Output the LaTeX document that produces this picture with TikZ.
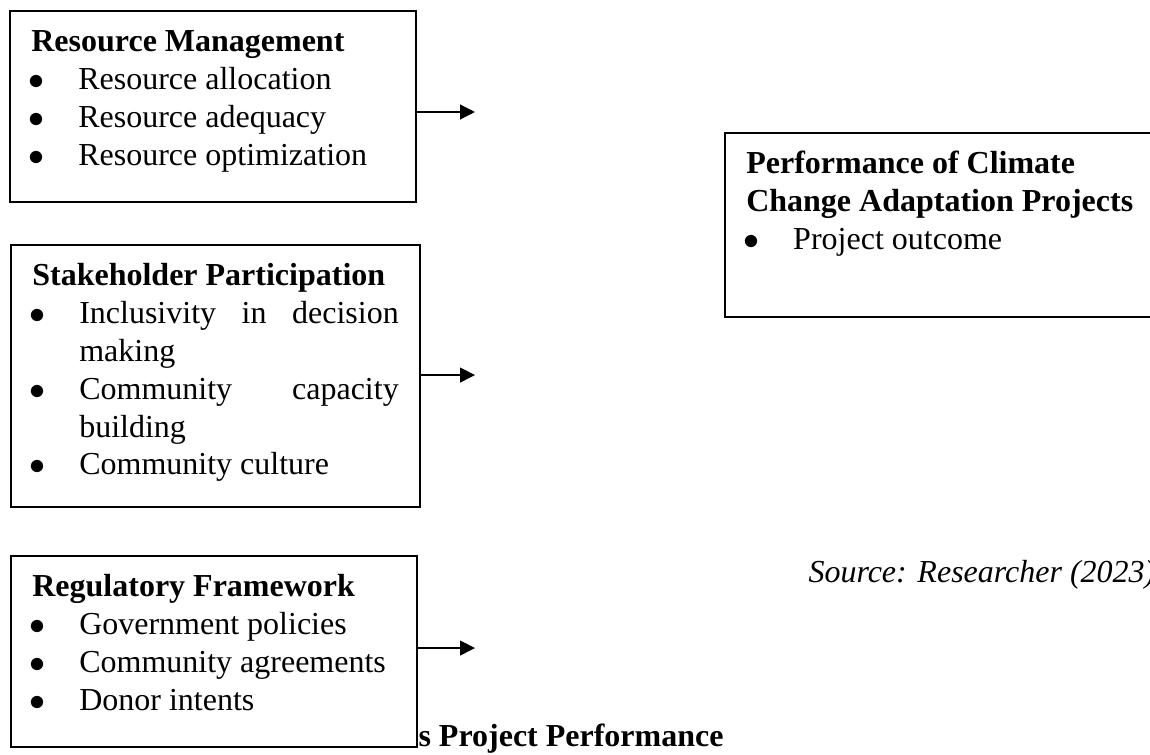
\documentclass[tikz,border=0pt]{standalone}
\usepackage{fontspec}
\setmainfont{Liberation Serif}
\usetikzlibrary{arrows.meta}

% bullet line with hanging indent
\newcommand{\bitem}[1]{\par\hangindent=17.6pt\hangafter=1\noindent\makebox[17.6pt][l]{\hspace{-1pt}{\large$\bullet$}}#1}
\tolerance=10000
\hyphenpenalty=10000

\begin{document}
\begin{tikzpicture}[
    font=\fontsize{12}{14.2}\selectfont,
    varbox/.style={
        rectangle,
        draw=black,
        line width=0.75pt,
        anchor=north west,
        align=justify,
        inner xsep=8pt,
        inner ysep=0pt,
        text height=15.2pt
    },
    arrow/.style={-{Triangle[length=5.6pt,width=5.6pt]}, line width=0.5pt},
]

\useasboundingbox (0,0) rectangle (15.157,-9.938);
\clip (0,0) rectangle (15.157,-9.938);

% Independent variables
\node[varbox, text width=136.25pt, text depth=56.4pt] (res) at (0.119,-0.132) {%
    \textbf{Resource Management}
    \bitem{Resource allocation}
    \bitem{Resource adequacy}
    \bitem{Resource optimization}};

\node[varbox, text width=137.4pt, text depth=83pt] (stake) at (0.132,-3.216) {%
    \textbf{Stakeholder Participation}
    \bitem{Inclusivity in decision making}
    \bitem{Community capacity building}
    \bitem{Community culture}};

\node[varbox, text width=136.25pt, text depth=56.4pt] (reg) at (0.132,-7.315) {%
    \textbf{Regulatory Framework}
    \bitem{Government policies}
    \bitem{Community agreements}
    \bitem{Donor intents}};

% Dependent variable
\node[varbox, text width=148.25pt, text depth=53.8pt] (perf) at (9.542,-1.740) {%
    \textbf{Performance of Climate}\\
    \textbf{Change Adaptation Projects}
    \bitem{Project outcome}};

\node[anchor=base west, inner sep=0pt, font=\fontsize{12}{14.2}\selectfont\itshape] (src) at (10.649,-7.671) {Source: Researcher (2023)};
\node[anchor=base west, inner sep=0pt, font=\fontsize{12}{14.2}\selectfont\bfseries] (title) at (5.509,-9.845) {s Project Performance};

% Arrows
\coordinate (resend)   at (6.260,-1.476);
\coordinate (stakeend) at (6.260,-4.943);
\coordinate (regend)   at (6.260,-8.541);

\draw[arrow] (resend -| res.east) -- (resend);
\draw[arrow] (stakeend -| stake.east) -- (stakeend);
\draw[arrow] (regend -| reg.east) -- (regend);

\end{tikzpicture}
\end{document}
